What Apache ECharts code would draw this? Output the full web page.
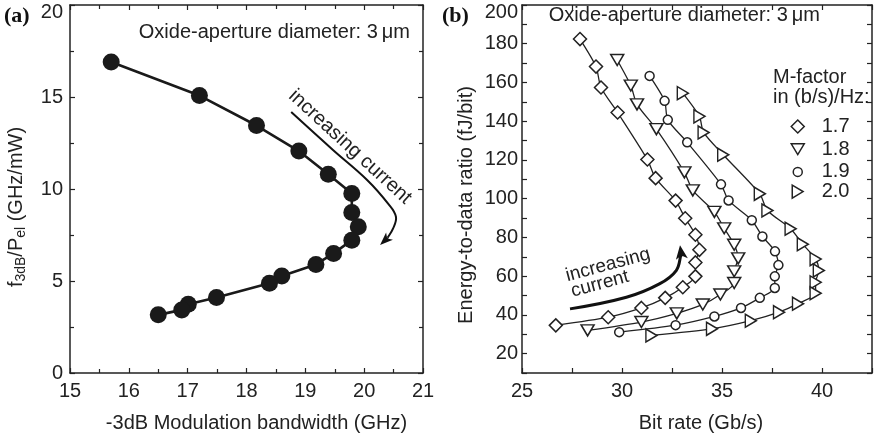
<!DOCTYPE html>
<html>
<head>
<meta charset="utf-8">
<script src="https://cdn.jsdelivr.net/npm/echarts@6/dist/echarts.min.js"></script>
<style>
  html, body { margin: 0; padding: 0; background: #fff; }
  #chart { width: 875px; height: 438px; }
</style>
</head>
<body>
<div id="chart"></div>
<script>
// ---- Panel (a): f3dB/Pel versus -3dB modulation bandwidth ----
const bandwidthGHz = [15.7, 17.2, 18.17, 18.89, 19.39, 19.79, 19.79, 19.9, 19.79, 19.48, 19.18, 18.6, 18.39, 17.49, 17.01, 16.9, 16.5];
const bwPerPower   = [16.9, 15.08, 13.45, 12.06, 10.8, 9.75, 8.72, 7.95, 7.22, 6.5, 5.9, 5.27, 4.88, 4.1, 3.74, 3.43, 3.16];

// ---- Panel (b): energy-to-data ratio versus bit rate, per M-factor ----
const mFactors = ['1.7', '1.8', '1.9', '2.0'];
const bitRate17 = [27.9, 28.7, 28.95, 29.78, 31.27, 31.68, 32.68, 33.16, 33.67, 33.87, 33.67, 33.67, 33.04, 32.16, 30.97, 29.31, 26.69];
const energy17  = [182.4, 168.2, 157.4, 144.5, 120.2, 110.6, 99.0, 89.9, 81.4, 73.6, 67.1, 59.9, 54.3, 48.8, 43.6, 38.8, 34.6];
const bitRate18 = [29.76, 30.44, 30.75, 31.72, 33.12, 33.54, 34.62, 35.11, 35.61, 35.81, 35.61, 35.61, 34.92, 34.04, 32.74, 30.97, 28.28];
const energy18  = [171.6, 158.4, 148.7, 135.9, 113.6, 104.3, 93.2, 84.7, 76.2, 69.2, 62.5, 56.5, 50.5, 45.4, 40.8, 36.3, 32.0];
const bitRate19 = [31.38, 32.13, 32.29, 33.26, 34.95, 35.33, 36.49, 37.02, 37.65, 37.82, 37.64, 37.64, 36.89, 35.95, 34.62, 32.68, 29.86];
const energy19  = [163.4, 150.5, 140.7, 129.1, 107.4, 99.1, 88.9, 80.5, 72.8, 65.7, 59.9, 53.9, 48.8, 43.6, 39.2, 34.7, 31.1];
const bitRate20 = [33.04, 33.87, 34.08, 35.06, 36.89, 37.27, 38.43, 39.04, 39.68, 39.84, 39.68, 39.68, 38.8, 37.85, 36.44, 34.5, 31.47];
const energy20  = [154.5, 142.5, 134.2, 122.7, 102.5, 93.9, 84.5, 76.5, 68.8, 62.9, 56.8, 51.2, 45.8, 41.4, 37.0, 32.8, 29.4];

// Tick labels
const xTicksA = [15, 16, 17, 18, 19, 20, 21];
const yTicksA = [0, 5, 10, 15, 20];
const xTicksB = [25, 30, 35, 40];
const yTicksB = [20, 40, 60, 80, 100, 120, 140, 160, 180, 200];

// "increasing current" arrow paths (data coordinates of each panel)
const arrowPathA = [[18.76, 14.18], [19.47, 12.12], [20.05, 10.49], [20.41, 9.19], [20.54, 8.49], [20.49, 7.84], [20.39, 7.31], [20.27, 6.95]];
const arrowPathB = [[27.4, 43.1], [30.22, 49.1], [31.87, 56.0], [32.71, 62.9], [32.96, 71.4], [32.9, 76.0]];

const FONT = '"Liberation Sans", Arial, Helvetica, sans-serif';
const TXT = 20;
const INK = '#222';

const zip = (xs, ys) => xs.map((x, i) => [x, ys[i]]);

const SYM_TRI_DOWN  = 'path://M0,0 L12,0 L6,10 Z';
const SYM_TRI_RIGHT = 'path://M0,0 L10,6 L0,12 Z';

// Marker shape and size for each M-factor series (shared by plot and legend)
const markerShapes = ['diamond', SYM_TRI_DOWN, 'circle', SYM_TRI_RIGHT];
const markerSizes  = [[13, 13], [13, 11], [9, 9], [11, 13]];

function frameAxis(base, extra) {
  return Object.assign({
    type: 'value',
    axisLine: { show: true, onZero: false, lineStyle: { color: INK, width: 1.5 } },
    axisTick: { show: true, inside: true, length: 5, lineStyle: { color: INK, width: 1.2 } },
    minorTick: { show: true, splitNumber: 2, length: 4, lineStyle: { color: INK, width: 1.2 } },
    splitLine: { show: false },
    axisLabel: { show: false }
  }, base, extra || {});
}

const labelStyle = { color: INK, fontFamily: FONT, fontSize: TXT };
const openMarker = { color: '#fff', borderColor: INK, borderWidth: 1.5 };

// Y tick label formatter: the top label sits a little below the frame corner
const yLabel = (ticks, top) => v => !ticks.includes(v) ? '' : (v === top ? '{top|' + v + '}' : String(v));
const yLabelRich = { top: Object.assign({ padding: [14, 0, 0, 0] }, labelStyle) };

const seriesB = [
  [bitRate17, energy17], [bitRate18, energy18], [bitRate19, energy19], [bitRate20, energy20]
].map((xy, i) => ({
  name: mFactors[i], type: 'line', xAxisIndex: 2, yAxisIndex: 2,
  data: zip(xy[0], xy[1]), smooth: 0.25,
  symbol: markerShapes[i], symbolSize: markerSizes[i],
  lineStyle: { color: INK, width: 1.3 },
  itemStyle: openMarker
}));

// One legend block per M-factor so each icon keeps its marker size
const legends = mFactors.map((name, i) => ({
  orient: 'vertical',
  left: 792 - markerSizes[i][0] / 2,
  top: 118 + i * 21.7 - markerSizes[i][1] / 2,
  itemWidth: markerSizes[i][0], itemHeight: markerSizes[i][1],
  textStyle: Object.assign({ padding: [0, 0, 0, 19 - markerSizes[i][0] / 2], lineHeight: markerSizes[i][1] }, labelStyle),
  data: [{ name: name, icon: markerShapes[i] }],
  itemStyle: openMarker,
  selectedMode: false
}));

const option = {
  animation: false,
  backgroundColor: '#fff',
  grid: [
    { left: 70, top: 5, width: 353, height: 372 },
    { left: 522, top: 5, width: 351, height: 372 }
  ],
  xAxis: [
    frameAxis({ gridIndex: 0, position: 'bottom', min: 15, max: 21, interval: 1,
      axisLabel: Object.assign({ show: true, margin: 8,
        formatter: v => xTicksA.includes(v) ? String(v) : '' }, labelStyle),
      name: '-3dB Modulation bandwidth (GHz)', nameLocation: 'middle', nameGap: 40,
      nameTextStyle: Object.assign({ padding: [0, 0, 0, 20] }, labelStyle) }),
    frameAxis({ gridIndex: 0, position: 'top', min: 15, max: 21, interval: 1 }),
    frameAxis({ gridIndex: 1, position: 'bottom', min: 25, max: 42.5, interval: 2.5,
      minorTick: { show: false },
      axisLabel: Object.assign({ show: true, margin: 8,
        formatter: v => xTicksB.includes(v) ? String(v) : '' }, labelStyle),
      name: 'Bit rate (Gb/s)', nameLocation: 'middle', nameGap: 40,
      nameTextStyle: Object.assign({ padding: [0, 0, 0, 8] }, labelStyle) }),
    frameAxis({ gridIndex: 1, position: 'top', min: 25, max: 42.5, interval: 2.5, minorTick: { show: false } })
  ],
  yAxis: [
    frameAxis({ gridIndex: 0, position: 'left', min: 0, max: 20, interval: 5,
      axisLabel: Object.assign({ show: true, margin: 7,
        formatter: yLabel(yTicksA, 20), rich: yLabelRich }, labelStyle),
      name: 'f{sub|3dB}/P{sub|el} (GHz/mW)', nameLocation: 'middle', nameGap: 42,
      nameTextStyle: Object.assign({ padding: [0, 36, 0, 0],
        rich: { sub: { fontFamily: FONT, fontSize: 14, color: INK, padding: [10, 0, 0, 0] } } }, labelStyle) }),
    frameAxis({ gridIndex: 0, position: 'right', min: 0, max: 20, interval: 5 }),
    frameAxis({ gridIndex: 1, position: 'left', min: 10, max: 200, interval: 10,
      minorTick: { show: false },
      axisLabel: Object.assign({ show: true, margin: 4,
        formatter: yLabel(yTicksB, 200), rich: yLabelRich }, labelStyle),
      name: 'Energy-to-data ratio (fJ/bit)', nameLocation: 'middle', nameGap: 46,
      nameTextStyle: Object.assign({ padding: [0, 32, 0, 0] }, labelStyle) }),
    frameAxis({ gridIndex: 1, position: 'right', min: 10, max: 200, interval: 10, minorTick: { show: false } })
  ],
  legend: legends,
  series: [
    {
      type: 'line', xAxisIndex: 0, yAxisIndex: 0,
      data: zip(bandwidthGHz, bwPerPower),
      symbol: 'circle', symbolSize: 17,
      lineStyle: { color: '#1a1a1a', width: 2.6 },
      itemStyle: { color: '#1a1a1a' },
      z: 3
    }
  ].concat(seriesB)
};

const chart = echarts.init(document.getElementById('chart'), null, { renderer: 'canvas' });
chart.setOption(option);

// Annotations: panel letters, captions, legend heading and curved arrows
function arrow(gridIndex, path, width, headLen, headWid) {
  const pts = path.map(p => chart.convertToPixel({ gridIndex: gridIndex }, p));
  const n = pts.length;
  const tip = pts[n - 1], prev = pts[n - 2];
  const ang = Math.atan2(tip[1] - prev[1], tip[0] - prev[0]);
  const bx = tip[0] - headLen * Math.cos(ang), by = tip[1] - headLen * Math.sin(ang);
  const px = -Math.sin(ang) * headWid / 2, py = Math.cos(ang) * headWid / 2;
  const body = pts.slice(0, n - 1).concat([[bx + (tip[0] - bx) * 0.2, by + (tip[1] - by) * 0.2]]);
  return [
    { type: 'polyline', shape: { points: body, smooth: 0.4 },
      style: { stroke: '#111', lineWidth: width, fill: null }, z: 10 },
    { type: 'polygon', shape: { points: [tip, [bx + px, by + py], [bx + (tip[0] - bx) * 0.25, by + (tip[1] - by) * 0.25], [bx - px, by - py]] },
      style: { fill: '#111' }, z: 10 }
  ];
}

const txt = (x, y, text, extra) => ({
  type: 'text', x: x, y: y, z: 10,
  style: Object.assign({ text: text, fill: INK, font: TXT + 'px ' + FONT, textAlign: 'left', textVerticalAlign: 'middle' }, extra || {})
});

chart.setOption({
  graphic: [
    txt(4, 16, '(a)', { font: 'bold 22px "Liberation Serif", "Times New Roman", serif', fill: '#111' }),
    txt(442, 16, '(b)', { font: 'bold 22px "Liberation Serif", "Times New Roman", serif', fill: '#111' }),
    txt(410, 32, 'Oxide-aperture diameter: 3\u2009\u03bcm', { textAlign: 'right' }),
    txt(820, 15, 'Oxide-aperture diameter: 3\u2009\u03bcm', { textAlign: 'right' }),
    txt(773, 77, 'M-factor'),
    txt(773, 97, 'in (b/s)/Hz:'),
    { type: 'text', x: 350, y: 147, rotation: -42.5 * Math.PI / 180, z: 10,
      style: { text: 'increasing current', fill: INK, font: TXT + 'px ' + FONT, textAlign: 'center', textVerticalAlign: 'middle' } },
    { type: 'text', x: 608, y: 265, rotation: 15 * Math.PI / 180, z: 10,
      style: { text: 'increasing', fill: INK, font: '19px ' + FONT, textAlign: 'center', textVerticalAlign: 'middle' } },
    { type: 'text', x: 600, y: 284, rotation: 15 * Math.PI / 180, z: 10,
      style: { text: 'current', fill: INK, font: '19px ' + FONT, textAlign: 'center', textVerticalAlign: 'middle' } }
  ].concat(arrow(0, arrowPathA, 2, 13, 10)).concat(arrow(1, arrowPathB, 3, 14, 12))
});
</script>
</body>
</html>
